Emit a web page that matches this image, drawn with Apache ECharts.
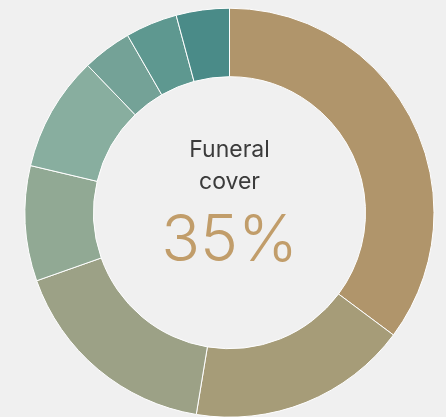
<!DOCTYPE html>
<html>
<head>
<meta charset="utf-8">
<script src="https://cdn.jsdelivr.net/npm/echarts@6/dist/echarts.min.js"></script>
<style>
html,body{margin:0;padding:0;background:#f0f0f0;}
#chart{width:446px;height:417px;}
</style>
</head>
<body>
<div id="chart"></div>
<script>
const categories = ['Funeral cover','Segment 2','Segment 3','Segment 4','Segment 5','Segment 6','Segment 7','Segment 8'];
const values = [35.2, 17.4, 17.0, 9.1, 9.1, 3.9, 4.1, 4.2];
const colors = ['#b0956b','#a69c78','#9ca186','#91a994','#88ae9f','#74a297','#5e9890','#4a8b88'];
const centerTitle = ['Funeral', 'cover'];
const centerValue = '35%';

const chart = echarts.init(document.getElementById('chart'));
chart.setOption({
  backgroundColor: '#f0f0f0',
  animation: false,
  series: [{
    type: 'pie',
    center: [229.5, 212.7],
    radius: [136, 204.5],
    startAngle: 90,
    clockwise: true,
    label: { show: false },
    labelLine: { show: false },
    emphasis: { disabled: true },
    itemStyle: { borderColor: '#ffffff', borderWidth: 1 },
    data: categories.map((c, i) => ({ name: c, value: values[i], itemStyle: { color: colors[i] } }))
  }],
  graphic: [
    { type: 'text', x: 229.5, y: 139, style: { text: centerTitle[0], fill: '#3b3b3b', font: '400 23px Inter, "Noto Sans", sans-serif', align: 'center', verticalAlign: 'top' } },
    { type: 'text', x: 229.5, y: 171, style: { text: centerTitle[1], fill: '#3b3b3b', font: '400 23px Inter, "Noto Sans", sans-serif', align: 'center', verticalAlign: 'top' } },
    { type: 'text', x: 229.5, y: 210, style: { text: centerValue, fill: '#c19d6a', font: '300 64px Inter, "Noto Sans", sans-serif', align: 'center', verticalAlign: 'top' } }
  ]
});
</script>
</body>
</html>
